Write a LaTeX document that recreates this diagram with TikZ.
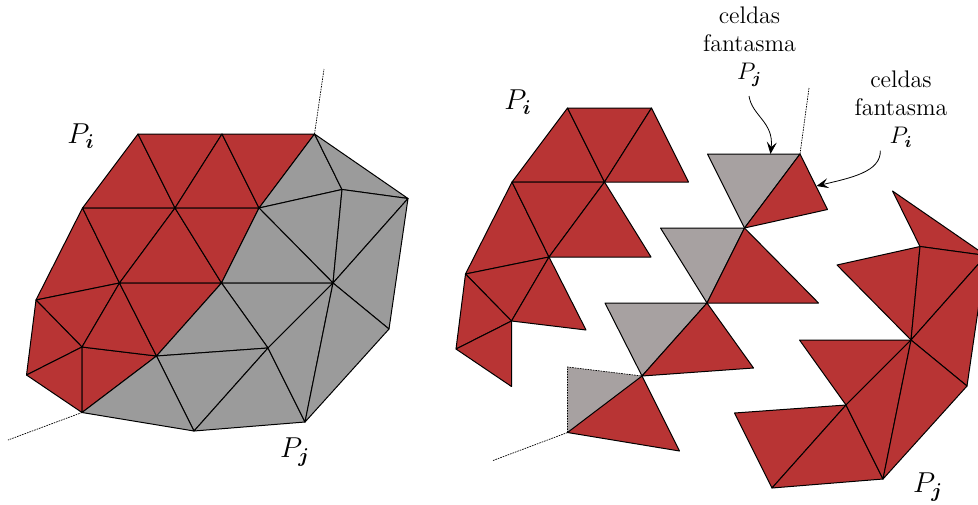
\documentclass[tikz,border=0pt]{standalone}
\usepackage{amsmath, amssymb}
\usetikzlibrary{arrows.meta}
\definecolor{myred}{RGB}{184,52,52}
\definecolor{mygray}{RGB}{155,155,155}
\definecolor{myghost}{RGB}{167,161,161}
\tikzset{
	celda/.style={draw=black, line width=0.5pt, line join=round},
	interna/.style={celda, fill=myred},
	externa/.style={celda, fill=mygray},
	fantasma/.style={celda, fill=myghost},
	corte/.style={dash pattern=on 0.8pt off 0.5pt, line width=0.35pt},
	rotulo/.style={font=\large, align=center, inner sep=0pt},
	flecha/.style={-{Stealth[length=6pt, width=5pt, inset=2.5pt]}, line width=0.4pt}
}
% vertices de la malla
\newcommand{\vertices}{
	\coordinate (a1) at (138,134);
	\coordinate (a2) at (222,134);
	\coordinate (a3) at (314.5,134);
	\coordinate (b1) at (82.5,208);
	\coordinate (b2) at (175,208);
	\coordinate (b3) at (259,208);
	\coordinate (c1) at (36,300);
	\coordinate (c2) at (119.5,283);
	\coordinate (c3) at (221.5,283);
	\coordinate (d1) at (82,347);
	\coordinate (d2) at (156.5,356);
	\coordinate (e1) at (26.5,375);
	\coordinate (f1) at (82,412.5);
	\coordinate (g1) at (194,431);
	\coordinate (g2) at (305,422);
	\coordinate (h1) at (268,348);
	\coordinate (i1) at (333,283);
	\coordinate (j1) at (389,329);
	\coordinate (k1) at (408,198.5);
	\coordinate (l1) at (342,189.5);
}
\newcommand{\celda}[4]{\draw[#1] (#2) -- (#3) -- (#4) -- cycle;}
\begin{document}
\begin{tikzpicture}[x=0.5pt, y=-0.5pt]
	\useasboundingbox (0,0) rectangle (978,504);
	\clip (0,0) rectangle (978,504);
	% Malla completa
	\begin{scope}
		\vertices
		\coordinate (corteuno) at (324,69);
		\coordinate (cortedos) at (8,440);
		\draw[corte] (a3) -- (corteuno);
		\draw[corte] (f1) -- (cortedos);
		\foreach \p/\q/\r in {a1/b1/b2, a1/a2/b2, a2/b2/b3, a2/a3/b3, b1/c1/c2, b1/b2/c2, b2/c2/c3, b2/b3/c3, c1/c2/d1, c1/d1/e1, e1/d1/f1, d1/f1/d2, d1/c2/d2, c2/c3/d2}
			{\celda{interna}{\p}{\q}{\r}}
		\foreach \p/\q/\r in {a3/b3/l1, a3/l1/k1, b3/l1/i1, l1/k1/i1, k1/i1/j1, b3/c3/i1, c3/i1/h1, c3/h1/d2, d2/h1/g1, d2/g1/f1, h1/g1/g2, h1/i1/g2, i1/j1/g2}
			{\celda{externa}{\p}{\q}{\r}}
	\end{scope}
	% Particion P_i
	\begin{scope}[shift={(429.5,-26)}]
		\vertices
		\foreach \p/\q/\r in {a1/b1/b2, a1/a2/b2, a2/b2/b3, b1/c1/c2, b1/b2/c2, b2/c2/c3, c1/c2/d1, c2/d1/d2, c1/d1/e1, e1/d1/f1}
			{\celda{interna}{\p}{\q}{\r}}
	\end{scope}
	% Celdas fantasma
	\begin{scope}[shift={(485.5,20)}]
		\vertices
		\coordinate (corteuno) at (323.5,68);
		\coordinate (cortedos) at (7.5,440.5);
		\draw[corte] (a3) -- (corteuno);
		\draw[corte] (f1) -- (cortedos);
		\foreach \p/\q/\r in {a2/a3/b3, b2/b3/c3, c2/c3/d2}
			{\celda{fantasma}{\p}{\q}{\r}}
		\fill[myghost] (d1) -- (d2) -- (f1) -- cycle;
		\draw[corte] (f1) -- (d1) -- (d2);
		\foreach \p/\q/\r in {a3/b3/l1, b3/c3/i1, c3/d2/h1, d2/f1/g1}
			{\celda{interna}{\p}{\q}{\r}}
		\coordinate (puntaj) at (285,134);
		\coordinate (puntai) at (331,166);
	\end{scope}
	% Particion P_j
	\begin{scope}[shift={(578,57)}]
		\vertices
		\foreach \p/\q/\r in {a3/l1/k1, b3/l1/i1, l1/k1/i1, k1/i1/j1, c3/i1/h1, d2/h1/g1, h1/g1/g2, h1/i1/g2, i1/j1/g2}
			{\celda{interna}{\p}{\q}{\r}}
	\end{scope}
	% Rotulos
	\node[font=\Large] (pia) at (81,136) {$P_{\boldsymbol{i}}$};
	\node[font=\Large] (pja) at (295,452) {$P_{\boldsymbol{j}}$};
	\node[font=\Large] (pib) at (518,102) {$P_{\boldsymbol{i}}$};
	\node[font=\Large] (pjb) at (928,487) {$P_{\boldsymbol{j}}$};
	\node[rotulo] (ghostj) at (749.5,47) {celdas\\fantasma\\$P_{\boldsymbol{j}}$};
	\node[rotulo] (ghosti) at (901,109) {celdas\\fantasma\\$P_{\boldsymbol{i}}$};
	\coordinate (salidaj) at (749,96);
	\coordinate (salidai) at (880.3,150.7);
	\draw[flecha] (salidaj) .. controls (752,116) and (774,122) .. (puntaj);
	\draw[flecha] (salidai) .. controls (881,172) and (850,178) .. (puntai);
\end{tikzpicture}
\end{document}
